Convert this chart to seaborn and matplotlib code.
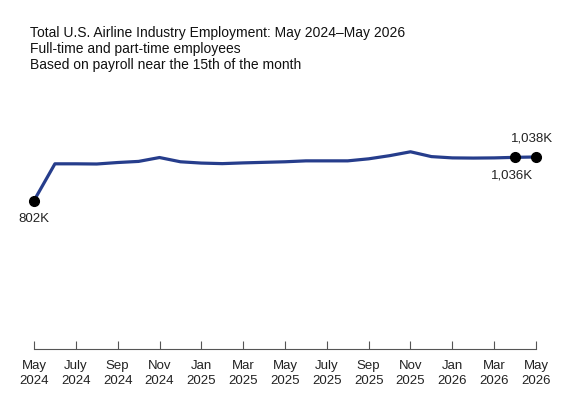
import seaborn as sns
import matplotlib.pyplot as plt
import pandas as pd

sns.set_style("white")
plt.rcParams['font.family'] = ['Liberation Sans', 'DejaVu Sans']

# monthly employment, thousands
months = ["2024-05", "2024-06", "2024-07", "2024-08", "2024-09", "2024-10", "2024-11", "2024-12",
          "2025-01", "2025-02", "2025-03", "2025-04", "2025-05", "2025-06", "2025-07", "2025-08",
          "2025-09", "2025-10", "2025-11", "2025-12", "2026-01", "2026-02", "2026-03", "2026-04",
          "2026-05"]
employment = [802, 1001, 1001, 1000, 1008, 1014, 1035, 1012,
              1005, 1002, 1006, 1009, 1012, 1017, 1017, 1017,
              1028, 1045, 1066, 1040, 1033, 1032, 1033, 1036,
              1038]
tick_labels = ["May\n2024", "July\n2024", "Sep\n2024", "Nov\n2024", "Jan\n2025", "Mar\n2025",
               "May\n2025", "July\n2025", "Sep\n2025", "Nov\n2025", "Jan\n2026", "Mar\n2026",
               "May\n2026"]

df = pd.DataFrame({"month": months, "employment": employment})
df["x"] = range(len(df))

fig = plt.figure(figsize=(5.69, 4.07), dpi=100)
ax = fig.add_axes([34 / 569, 58 / 407, 502 / 569, 259 / 407])

sns.lineplot(data=df, x="x", y="employment", ax=ax, color="#263d8c", linewidth=2.3)

# highlighted points
first, prev, last = df.iloc[0], df.iloc[-2], df.iloc[-1]
ax.plot([first.x, prev.x, last.x], [first.employment, prev.employment, last.employment],
        "o", color="black", markersize=7, clip_on=False, zorder=5)

ax.annotate(f"{first.employment:,.0f}K", (first.x, first.employment), xytext=(0, -13),
            textcoords="offset points", ha="center", va="center", fontsize=9.5, color="#222222")
ax.annotate(f"{prev.employment:,.0f}K", (prev.x, prev.employment), xytext=(-2, -13),
            textcoords="offset points", ha="center", va="center", fontsize=9.5, color="#222222")
ax.annotate(f"{last.employment:,.0f}K", (last.x, last.employment), xytext=(-3, 13),
            textcoords="offset points", ha="center", va="center", fontsize=9.5, color="#222222")

ax.set_xlim(0, len(df) - 1)
ax.set_ylim(0, 1400)
ax.set_xticks(df["x"][::2])
ax.set_xticklabels(tick_labels, fontsize=9.5, linespacing=1.3, color="#222222")
ax.set_yticks([])
ax.set_xlabel("")
ax.set_ylabel("")
for side in ["left", "right", "top"]:
    ax.spines[side].set_visible(False)
ax.spines["bottom"].set_color("#555555")
ax.tick_params(axis="x", direction="in", length=6, color="#555555", pad=8, bottom=True)

fig.text(30 / 569, 1 - 33 / 407, "Total U.S. Airline Industry Employment: May 2024\u2013May 2026",
         fontsize=10, va="center", color="#111111")
fig.text(30 / 569, 1 - 49 / 407, "Full-time and part-time employees", fontsize=10, va="center",
         color="#111111")
fig.text(30 / 569, 1 - 65 / 407, "Based on payroll near the 15th of the month", fontsize=10,
         va="center", color="#111111")

plt.savefig("out.png", dpi=100)
